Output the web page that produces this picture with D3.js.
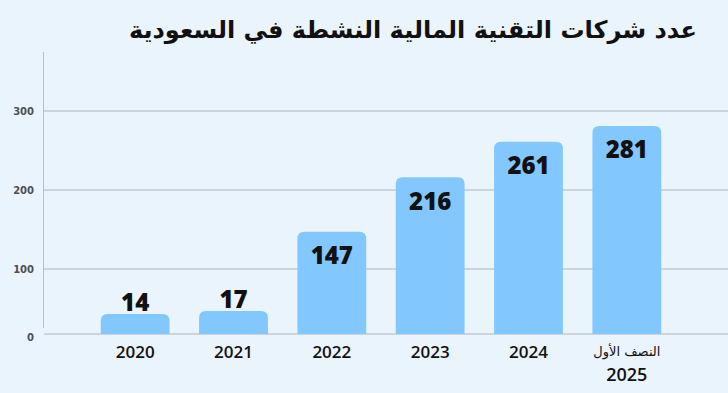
<!DOCTYPE html>
<html><head><meta charset="utf-8">
<script src="https://cdn.jsdelivr.net/npm/d3@7"></script>
<style>html,body{margin:0;padding:0;background:#eaf4fd;}svg{display:block;}</style>
</head><body>
<script>
const title = "عدد شركات التقنية المالية النشطة في السعودية";
const categories = ["2020", "2021", "2022", "2023", "2024", "2025"];
const subLabels = ["", "", "", "", "", "النصف الأول"];
const values = [14, 17, 147, 216, 261, 281];
const yTicks = [0, 100, 200, 300];

const W = 728, H = 393;
const svg = d3.select("body").append("svg").attr("width", W).attr("height", H);
svg.append("rect").attr("width", W).attr("height", H).attr("fill", "#eaf4fd");

const x = d3.scaleBand().domain(categories).range([86, 676]).paddingInner(0.30).paddingOuter(0.15);
// tick spacing in the original is slightly uneven; use a piecewise linear scale through the ticks
const y = d3.scaleLinear().domain([0, 100, 200, 300]).range([334, 269, 190, 111]);

// gridlines
svg.append("g").selectAll("line").data(yTicks).join("line")
  .attr("x1", 44).attr("x2", W).attr("y1", d => y(d)).attr("y2", d => y(d))
  .attr("stroke", "#aeb4ba").attr("stroke-width", 1);
// y axis line
svg.append("line").attr("x1", 43.5).attr("x2", 43.5).attr("y1", 52).attr("y2", 328)
  .attr("stroke", "#b8bec4").attr("stroke-width", 1);
// y tick labels
svg.append("g").selectAll("text").data(yTicks).join("text")
  .attr("x", 34).attr("y", d => y(d) + (d === 0 ? 3 : 0)).attr("dy", "0.35em")
  .attr("text-anchor", "end").attr("font-family", "'DejaVu Sans', sans-serif")
  .attr("font-weight", 700).attr("font-size", 10).attr("fill", "#4a4f55")
  .text(d => d);

// bars with rounded top corners (tiny bars get a minimum visible height)
const r = 7;
const barTop = d => (y(0) - y(d) < 30) ? y(0) - (6 + d) : y(d);
function barPath(d, i) {
  const x0 = x(categories[i]), w = x.bandwidth();
  const top = barTop(d), bot = y(0);
  return `M${x0},${bot}V${top + r}Q${x0},${top} ${x0 + r},${top}H${x0 + w - r}Q${x0 + w},${top} ${x0 + w},${top + r}V${bot}Z`;
}
svg.append("g").selectAll("path").data(values).join("path")
  .attr("d", (d, i) => barPath(d, i)).attr("fill", "#82c8ff");

// value labels
svg.append("g").selectAll("text").data(values).join("text")
  .attr("x", (d, i) => x(categories[i]) + x.bandwidth() / 2)
  .attr("y", d => { const top = barTop(d); return (y(0) - top) < 40 ? top - 11 : top + 24; })
  .attr("dy", "0.35em").attr("text-anchor", "middle")
  .attr("font-family", "'Open Sans', Roboto, sans-serif").attr("font-weight", 800)
  .attr("font-size", 24).attr("fill", "#111")
  .text(d => d);

// x labels
const xl = svg.append("g");
categories.forEach((c, i) => {
  const cx = x(c) + x.bandwidth() / 2;
  if (subLabels[i]) {
    xl.append("text").attr("x", cx).attr("y", 351).attr("dy", "0.35em").attr("text-anchor", "middle")
      .attr("font-family", "'DejaVu Sans', sans-serif").attr("font-size", 13).attr("fill", "#111")
      .attr("direction", "rtl").text(subLabels[i]);
    xl.append("text").attr("x", cx).attr("y", 375).attr("dy", "0.35em").attr("text-anchor", "middle")
      .attr("font-family", "'Open Sans', sans-serif").attr("font-weight", 600).attr("font-size", 18).attr("fill", "#111")
      .text(c);
  } else {
    xl.append("text").attr("x", cx).attr("y", 352).attr("dy", "0.35em").attr("text-anchor", "middle")
      .attr("font-family", "'Open Sans', sans-serif").attr("font-weight", 600).attr("font-size", 17).attr("fill", "#111")
      .text(c);
  }
});

// title
svg.append("text").attr("x", 697).attr("y", 30).attr("dy", "0.35em")
  .attr("text-anchor", "start").attr("direction", "rtl")
  .attr("font-family", "'DejaVu Sans', sans-serif").attr("font-weight", 700).attr("font-size", 24)
  .attr("fill", "#111").text(title);
</script>
</body></html>
